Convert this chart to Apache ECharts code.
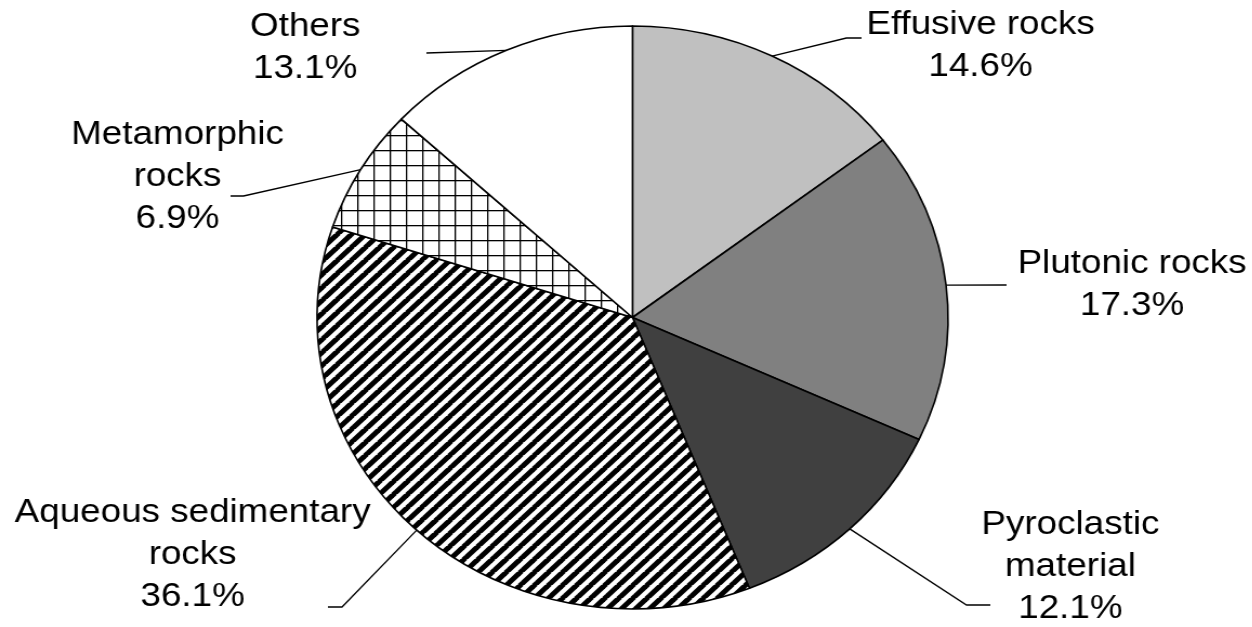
<!DOCTYPE html>
<html>
<head>
<meta charset="utf-8">
<script src="https://cdn.jsdelivr.net/npm/echarts@6/dist/echarts.min.js"></script>
<style>
  html, body { margin: 0; padding: 0; background: #fff; overflow: hidden; }
  #wrap { width: 1252px; height: 627px; overflow: hidden; }
  /* the figure is drawn at a narrower width and widened so the pie becomes an ellipse */
  #chart { width: 1157px; height: 627px; transform: scaleX(1.0823); transform-origin: 0 0; }
</style>
</head>
<body>
<div id="wrap"><div id="chart"></div></div>
<script>
// Rock types, clockwise from 12 o'clock
const categories = [
  'Effusive rocks',
  'Plutonic rocks',
  'Pyroclastic\nmaterial',
  'Aqueous sedimentary\nrocks',
  'Metamorphic\nrocks',
  'Others'
];
// Share of each rock type, %
const shares = [14.6, 17.3, 12.1, 36.1, 6.9, 13.1];

// Fill tiles
function stripeTile() {
  const s = 13;
  const c = document.createElement('canvas');
  c.width = s; c.height = s;
  const g = c.getContext('2d');
  g.fillStyle = '#fff';
  g.fillRect(0, 0, s, s);
  g.strokeStyle = '#000';
  g.lineWidth = 5;
  for (let k = -1; k <= 1; k++) {
    g.beginPath();
    g.moveTo(k * s - 1, s + 1);
    g.lineTo(k * s + s + 1, -1);
    g.stroke();
  }
  return c;
}
function gridTile() {
  const s = 15;
  const c = document.createElement('canvas');
  c.width = s; c.height = s;
  const g = c.getContext('2d');
  g.fillStyle = '#fff';
  g.fillRect(0, 0, s, s);
  g.fillStyle = '#000';
  g.fillRect(0, 0, 1.3, s);
  g.fillRect(0, 0, s, 1.3);
  return c;
}

const fills = [
  '#c0c0c0',
  '#808080',
  '#404040',
  { image: stripeTile(), repeat: 'repeat' },
  { image: gridTile(), repeat: 'repeat' },
  '#ffffff'
];

// Label block centres and leader-line bends (chart-space px)
const labelSpots = [
  { x: 906, y: 46, knee: [782, 38], end: [796, 38] },
  { x: 1046, y: 285, knee: null, end: [930, 285] },
  { x: 989, y: 567, knee: [893, 605], end: [915, 605] },
  { x: 178, y: 555, knee: [316, 607], end: [303, 607] },
  { x: 164, y: 177, knee: [225, 196], end: [213, 196] },
  { x: 282, y: 48, knee: null, end: [394, 53] }
];

const chart = echarts.init(document.getElementById('chart'), null, { renderer: 'canvas' });

chart.setOption({
  backgroundColor: '#ffffff',
  animation: false,
  series: [{
    type: 'pie',
    center: [584.4, 317.5],
    radius: 291.5,
    startAngle: 90,
    clockwise: true,
    avoidLabelOverlap: false,
    emphasis: { disabled: true },
    itemStyle: { borderColor: '#000', borderWidth: 1.6 },
    label: {
      show: true,
      position: 'outside',
      fontFamily: 'Liberation Sans, Arial, sans-serif',
      fontSize: 34,
      lineHeight: 42,
      color: '#000',
      align: 'center',
      formatter: p => p.name + '\n' + p.value.toFixed(1) + '%'
    },
    labelLine: {
      show: true,
      length: 20,
      length2: 20,
      lineStyle: { color: '#000', width: 1.3 }
    },
    labelLayout: function (params) {
      const spot = labelSpots[params.dataIndex];
      const start = params.labelLinePoints ? params.labelLinePoints[0] : null;
      const out = { x: spot.x, y: spot.y, align: 'center', verticalAlign: 'middle' };
      if (start) {
        const pts = [start.slice ? start.slice() : [start[0], start[1]]];
        if (spot.knee) pts.push(spot.knee);
        pts.push(spot.end);
        if (pts.length === 2) pts.splice(1, 0, spot.end);
        out.labelLinePoints = pts;
      }
      return out;
    },
    data: categories.map((name, i) => ({
      name: name,
      value: shares[i],
      itemStyle: { color: fills[i] }
    }))
  }]
});
</script>
</body>
</html>
